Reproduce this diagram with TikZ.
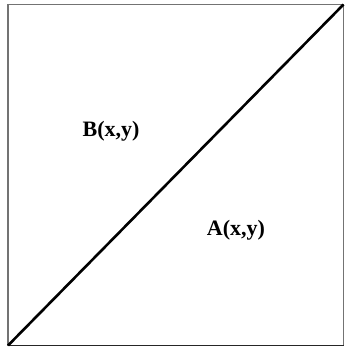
\documentclass[tikz,border=0pt]{standalone}
\usepackage{fontspec}
\setmainfont{Liberation Serif}
\begin{document}
\begin{tikzpicture}[x=1pt,y=-1pt,
  lbl/.style={font=\fontsize{22}{26}\selectfont\bfseries, inner sep=0pt},
  frame/.style={draw=black!55, line width=1.3pt}]
\useasboundingbox (0,0) rectangle (345,347);
\fill[white] (0,0) rectangle (345,347);
\coordinate (bl) at (8,345.5);
\coordinate (tr) at (343.5,4.5);
\draw[frame] (8,4.5) -- (343.5,4.5);
\draw[frame] (8,4.5) -- (8,345.5);
\draw[frame] (343.5,4.5) -- (343.5,345.5);
\draw[black!85, line width=1.5pt] (8,345.5) -- (343.5,345.5);
\draw[black, line width=2.6pt] (bl) -- (tr);
\node[lbl] (B) at (111,131) {B(x,y)};
\node[lbl] (A) at (236,230) {A(x,y)};
\end{tikzpicture}
\end{document}
